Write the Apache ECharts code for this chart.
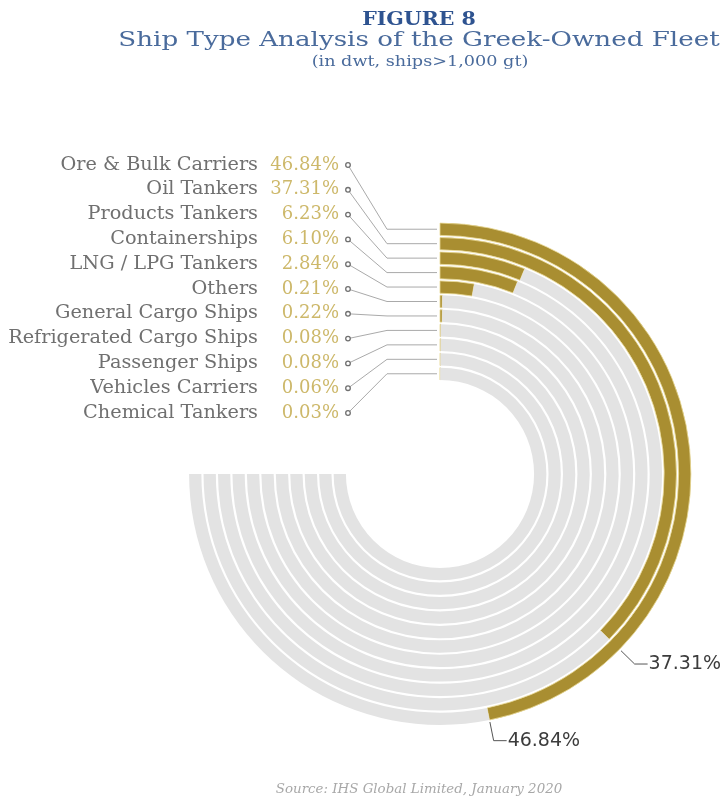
<!DOCTYPE html>
<html>
<head>
<meta charset="utf-8">
<script src="https://cdn.jsdelivr.net/npm/echarts@6/dist/echarts.min.js"></script>
<style>
  html, body { margin: 0; padding: 0; background: #ffffff; }
  #chart { width: 728px; height: 802px; }
</style>
</head>
<body>
<div id="chart"></div>
<script>
// Greek-owned fleet by ship type, share of total dwt (%)
const shipTypes = [
  'Ore & Bulk Carriers', 'Oil Tankers', 'Products Tankers', 'Containerships',
  'LNG / LPG Tankers', 'Others', 'General Cargo Ships', 'Refrigerated Cargo Ships',
  'Passenger Ships', 'Vehicles Carriers', 'Chemical Tankers'
];
const shares = [46.84, 37.31, 6.23, 6.10, 2.84, 0.21, 0.22, 0.08, 0.08, 0.06, 0.03];
const shareLabels = ['46.84%', '37.31%', '6.23%', '6.10%', '2.84%', '0.21%', '0.22%', '0.08%', '0.08%', '0.06%', '0.03%'];
// each ring's grey track runs to three quarters of the full circle
const trackShare = 75;
// rings that also get a callout at the end of their bar
const calloutIndex = [0, 1];

const GOLD = '#a98e31';
const TRACK = '#e3e3e3';
const SERIF = '"DejaVu Serif", "Liberation Serif", serif';

const chart = echarts.init(document.getElementById('chart'), null, { renderer: 'canvas' });

chart.setOption({
  backgroundColor: '#ffffff',
  animation: false,
  polar: { center: [440, 474], radius: [93, 252] },
  angleAxis: {
    type: 'value', min: 0, max: 100, startAngle: 90, clockwise: true,
    axisLine: { show: false }, axisTick: { show: false }, axisLabel: { show: false },
    splitLine: { show: false }
  },
  radiusAxis: {
    type: 'category', data: shipTypes, inverse: true,
    axisLine: { show: false }, axisTick: { show: false }, axisLabel: { show: false },
    splitLine: { show: false }
  },
  series: [
    {
      name: 'share', type: 'bar', coordinateSystem: 'polar', stack: 'ring',
      data: shares,
      barWidth: '85%',
      itemStyle: { color: GOLD, borderColor: '#e9d894', borderWidth: 0.8 }
    },
    {
      name: 'track', type: 'bar', coordinateSystem: 'polar', stack: 'ring',
      data: shares.map((v) => trackShare - v),
      barWidth: '85%', silent: true,
      itemStyle: { color: TRACK }
    }
  ]
});

// horizontally widened text, as used by the headings
function wideText(x, y, text, font, fill, scaleX, align) {
  return {
    type: 'text', x: x, y: y, scaleX: scaleX || 1,
    style: { text: text, font: font, fill: fill, align: align || 'center', verticalAlign: 'middle' }
  };
}

// Headings, left-hand legend, leader lines and end-of-bar callouts, placed from the polar scales
function drawAnnotations() {
  const polar = chart.getModel().getComponent('polar').coordinateSystem;
  const center = [polar.cx, polar.cy];
  const outerR = Math.max.apply(null, polar.getRadiusAxis().getExtent());
  const els = [];

  els.push(wideText(419, 20, 'FIGURE 8', 'bold 18px ' + SERIF, '#2e5390', 1.14));
  els.push(wideText(419, 41, 'Ship Type Analysis of the Greek-Owned Fleet', '21px ' + SERIF, '#4a6b9c', 1.245));
  els.push(wideText(420, 62, '(in dwt, ships>1,000 gt)', '14px ' + SERIF, '#4a6b9c', 1.26));
  els.push(wideText(419, 790, 'Source: IHS Global Limited, January 2020', 'italic 13px ' + SERIF, '#a8a8a8', 1.03));

  const rowTop = 165, rowStep = 24.8;
  const nameRight = 258, pctRight = 339, dotX = 348, kneeX = 387;

  shipTypes.forEach((name, i) => {
    const y = rowTop + i * rowStep;
    const ringStart = chart.convertToPixel({ polarIndex: 0 }, [i, 0]);
    els.push(wideText(nameRight, y, name, '18px ' + SERIF, '#707070', 1.07, 'right'));
    els.push(wideText(pctRight, y, shareLabels[i], '18px ' + SERIF, '#cdb86a', 1, 'right'));
    els.push({
      type: 'polyline',
      shape: { points: [[dotX, y], [kneeX, ringStart[1]], [ringStart[0] - 3, ringStart[1]]] },
      style: { stroke: '#aaaaaa', lineWidth: 1, fill: null }
    });
    els.push({
      type: 'circle', shape: { cx: dotX, cy: y, r: 2.3 },
      style: { fill: '#ffffff', stroke: '#707070', lineWidth: 1.3 }
    });
  });

  calloutIndex.forEach((i) => {
    const end = chart.convertToPixel({ polarIndex: 0 }, [i, shares[i]]);
    const dx = end[0] - center[0], dy = end[1] - center[1];
    const len = Math.sqrt(dx * dx + dy * dy);
    const ux = dx / len, uy = dy / len;
    // leader starts just outside the outermost ring, along the bar's end angle
    const start = [center[0] + ux * (outerR + 1), center[1] + uy * (outerR + 1)];
    const knee = [start[0] + ux * 19, start[1] + uy * 19];
    const tail = [knee[0] + 13, knee[1]];
    els.push({
      type: 'polyline',
      shape: { points: [start, knee, tail] },
      style: { stroke: '#555555', lineWidth: 1, fill: null }
    });
    els.push({
      type: 'text', x: tail[0] + 1, y: tail[1],
      style: { text: shareLabels[i], align: 'left', verticalAlign: 'middle',
               font: '19px "DejaVu Sans", sans-serif', fill: '#3c3c3c' }
    });
  });

  chart.setOption({ graphic: [{ type: 'group', silent: true, children: els }] });
}

drawAnnotations();
</script>
</body>
</html>
